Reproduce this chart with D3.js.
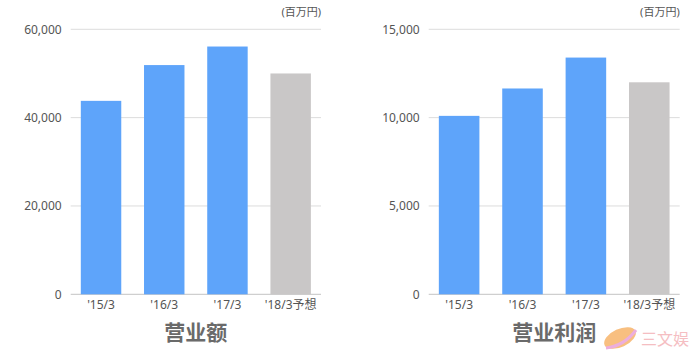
<!DOCTYPE html>
<html>
<head>
<meta charset="utf-8">
<script src="https://cdn.jsdelivr.net/npm/d3@7"></script>
<style>
html,body{margin:0;padding:0;background:#fff;}
svg{display:block;}
text{font-family:"Noto Sans","Noto Sans CJK JP",sans-serif;}
</style>
</head>
<body>
<svg id="c" width="696" height="354"></svg>
<script>
const categories = ["'15/3", "'16/3", "'17/3", "'18/3予想"];
const salesValues = [43800, 51900, 56100, 50000];
const profitValues = [10100, 11650, 13400, 12000];
const salesTicks = [0, 20000, 40000, 60000];
const profitTicks = [0, 5000, 10000, 15000];
const forecastFlags = [false, false, false, true];
const titles = ["营业额", "营业利润"];
const unitLabel = "(百万円)";

const svg = d3.select("#c");
const blue = "#5ea4fa", gray = "#c9c7c7";

function drawChart(x0, x1, values, ticks, title) {
  const y = d3.scaleLinear().domain([0, d3.max(ticks)]).range([294.3, 29.3]);
  const x = d3.scaleBand().domain(categories).range([x0, x1]).paddingInner(0.36).paddingOuter(0.16);
  const g = svg.append("g");

  g.selectAll("line.grid").data(ticks).join("line")
    .attr("x1", x0).attr("x2", x1)
    .attr("y1", d => y(d)).attr("y2", d => y(d))
    .attr("stroke", d => d === 0 ? "#c4c4c4" : "#dcdcdc")
    .attr("stroke-width", 1);

  g.selectAll("text.yt").data(ticks).join("text")
    .attr("x", x0 - 9).attr("y", d => y(d)).attr("dy", "0.35em")
    .attr("text-anchor", "end").attr("font-size", 12).attr("fill", "#555")
    .text(d => d3.format(",")(d));

  g.selectAll("rect").data(values).join("rect")
    .attr("x", (d, i) => x(categories[i]))
    .attr("width", x.bandwidth())
    .attr("y", d => y(d))
    .attr("height", d => y(0) - y(d))
    .attr("fill", (d, i) => forecastFlags[i] ? gray : blue);

  g.selectAll("text.xt").data(categories).join("text")
    .attr("x", d => x(d) + x.bandwidth() / 2).attr("y", 304.5).attr("dy", "0.35em")
    .attr("text-anchor", "middle").attr("font-size", 12).attr("fill", "#555")
    .text(d => d);

  g.append("text").attr("x", x1).attr("y", 12).attr("dy", "0.35em")
    .attr("text-anchor", "end").attr("font-size", 11).attr("fill", "#555")
    .text(unitLabel);

  g.append("text").attr("x", (x0 + x1) / 2).attr("y", 333).attr("dy", "0.35em")
    .attr("text-anchor", "middle").attr("font-size", 21).attr("font-weight", "bold")
    .attr("fill", "#6a6a6a").style("font-family", "'Noto Sans CJK SC',sans-serif").text(title);
}

drawChart(70.7, 321, salesValues, salesTicks, titles[0]);
drawChart(428.7, 679.7, profitValues, profitTicks, titles[1]);

const wm = svg.append("g").attr("opacity", 0.85);
wm.append("ellipse").attr("cx", 620).attr("cy", 338).attr("rx", 17).attr("ry", 9)
  .attr("transform", "rotate(-25,620,338)").attr("fill", "#f7b56b");
wm.append("path").attr("d", "M606,348 Q624,346 636,330").attr("stroke", "#e9a0d8")
  .attr("stroke-width", 3).attr("fill", "none");
wm.append("text").attr("x", 641).attr("y", 339).attr("dy", "0.35em")
  .attr("font-size", 16).attr("fill", "#f4b3b8").style("font-family", "'Noto Sans CJK SC',sans-serif").text("三文娱");
</script>
</body>
</html>
